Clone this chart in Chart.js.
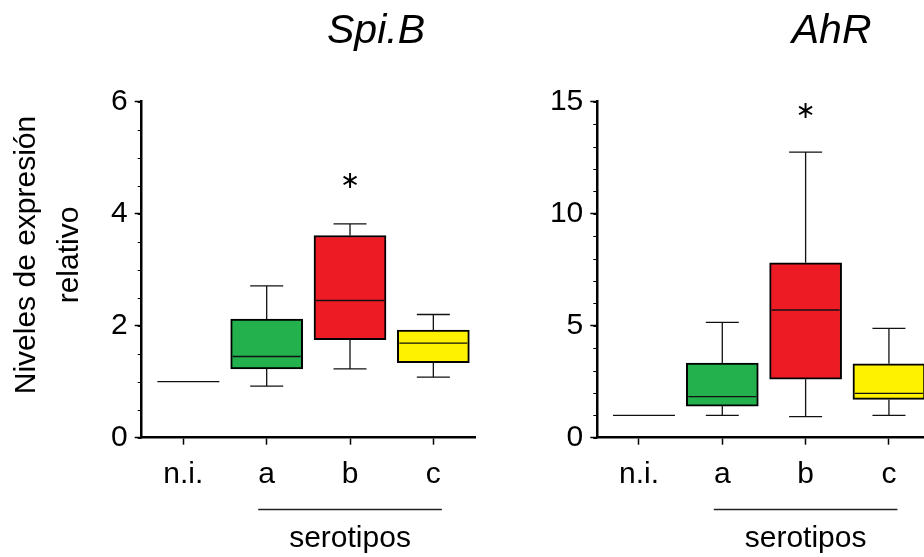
<!DOCTYPE html>
<html><head><meta charset="utf-8">
<script src="https://cdn.jsdelivr.net/npm/chart.js@4.4.1/dist/chart.umd.min.js"></script>
<style>
html,body{margin:0;padding:0;background:#fff;overflow:hidden;}
#wrap{position:relative;width:924px;height:557px;overflow:hidden;background:#fff;}
.box{position:absolute;top:0;}
</style></head><body>
<div id="wrap">
  <div class="box" style="left:0;width:480px;height:557px"><canvas id="c1" width="480" height="557"></canvas></div>
  <div class="box" style="left:480px;width:460px;height:557px"><canvas id="c2" width="460" height="557"></canvas></div>
</div>
<script>
// ---- data ----
const categories = ['n.i.', 'a', 'b', 'c'];
const groupLabel = 'serotipos';
const yAxisTitle = ['Niveles de expresión', 'relativo'];

const spiTitle = 'Spi.B';
const spiMin    = [1, 0.92, 1.23, 1.08];
const spiQ1     = [1, 1.23, 1.75, 1.34];
const spiMedian = [1, 1.45, 2.45, 1.69];
const spiQ3     = [1, 2.12, 3.61, 1.92];
const spiMax    = [1, 2.71, 3.82, 2.20];
const spiStar   = [null, null, 4.57, null];
const spiTicks  = [0, 2, 4, 6];

const ahrTitle = 'AhR';
const ahrMin    = [1, 1.00, 0.94, 1.00];
const ahrQ1     = [1, 1.41, 2.61, 1.71];
const ahrMedian = [1, 1.83, 5.70, 1.98];
const ahrQ3     = [1, 3.33, 7.81, 3.30];
const ahrMax    = [1, 5.15, 12.75, 4.88];
const ahrStar   = [null, null, 14.55, null];
const ahrTicks  = [0, 5, 10, 15];

const boxColors = ['#ffffff', '#22b14c', '#ed1c24', '#fff200'];

// ---- drawing ----
const FONT = '"Liberation Sans", Arial, Helvetica, sans-serif';

function boxPlugin(st) {
  return {
    id: 'boxExtras',
    afterDatasetsDraw(chart) {
      const ctx = chart.ctx, xs = chart.scales.x, ys = chart.scales.y;
      ctx.save();
      ctx.strokeStyle = '#111';
      ctx.lineWidth = 1.3;
      for (let i = 0; i < categories.length; i++) {
        const x = xs.getPixelForValue(i);
        const yMin = ys.getPixelForValue(st.min[i]);
        const yQ1 = ys.getPixelForValue(st.q1[i]);
        const yMed = ys.getPixelForValue(st.median[i]);
        const yQ3 = ys.getPixelForValue(st.q3[i]);
        const yMax = ys.getPixelForValue(st.max[i]);
        ctx.beginPath();
        if (st.q1[i] === st.q3[i]) {
          ctx.moveTo(x - 26, yMed); ctx.lineTo(x + 36, yMed);
        } else {
          ctx.moveTo(x, yQ3); ctx.lineTo(x, yMax);
          ctx.moveTo(x - 16.5, yMax); ctx.lineTo(x + 16.5, yMax);
          ctx.moveTo(x, yQ1); ctx.lineTo(x, yMin);
          ctx.moveTo(x - 16.5, yMin); ctx.lineTo(x + 16.5, yMin);
          ctx.moveTo(x - 34, yMed); ctx.lineTo(x + 34, yMed);
        }
        ctx.stroke();
        if (st.star[i] !== null) {
          ctx.fillStyle = '#000';
          ctx.font = '24px "DejaVu Sans", sans-serif';
          ctx.textAlign = 'center';
          ctx.textBaseline = 'middle';
          ctx.fillText('\u2217', x, ys.getPixelForValue(st.star[i]));
        }
      }
      // title
      ctx.fillStyle = '#000';
      ctx.font = 'italic 41px ' + FONT;
      ctx.textAlign = 'center';
      ctx.textBaseline = 'alphabetic';
      ctx.fillText(st.title, xs.getPixelForValue(2) + 26, 43);
      // group line and label
      const xa = xs.getPixelForValue(1) - 8.5, xc = xs.getPixelForValue(3) + 8.5;
      ctx.strokeStyle = '#222';
      ctx.lineWidth = 1.3;
      ctx.beginPath(); ctx.moveTo(xa, 509.5); ctx.lineTo(xc, 509.5); ctx.stroke();
      ctx.font = '30px ' + FONT;
      ctx.fillText(groupLabel, xs.getPixelForValue(2), 547);
      // y axis title
      if (st.yTitle) {
        ctx.save();
        ctx.translate(0, 255);
        ctx.rotate(-Math.PI / 2);
        ctx.textAlign = 'center';
        ctx.fillText(yAxisTitle[0], 0, 35);
        ctx.fillText(yAxisTitle[1], 0, 78);
        ctx.restore();
      }
      // minor y ticks
      ctx.strokeStyle = '#000';
      ctx.lineWidth = 1;
      ctx.beginPath();
      for (let v = 0; v <= st.yMax + 1e-9; v += st.minor) {
        const y = Math.round(ys.getPixelForValue(v)) + 0.5;
        ctx.moveTo(xs.left - 4, y); ctx.lineTo(xs.left, y);
      }
      ctx.stroke();
      ctx.restore();
    }
  };
}

function makeChart(id, st) {
  return new Chart(document.getElementById(id), {
    type: 'bar',
    data: {
      labels: categories,
      datasets: [{
        data: categories.map((_, i) => st.q1[i] === st.q3[i] ? null : [st.q1[i], st.q3[i]]),
        backgroundColor: boxColors,
        borderColor: '#000',
        borderWidth: 2,
        borderSkipped: false,
        barThickness: 72
      }]
    },
    options: {
      responsive: false,
      animation: false,
      events: [],
      layout: { padding: { left: 0, right: st.padRight, top: 101.7, bottom: 0 } },
      plugins: { legend: { display: false }, tooltip: { enabled: false }, title: { display: false } },
      scales: {
        x: {
          offset: true,
          grid: { offset: false, drawOnChartArea: false, drawTicks: true, tickLength: 7, tickWidth: 1.5, tickColor: '#000' },
          border: { display: true, color: '#000', width: 2.5 },
          ticks: { color: '#000', font: { family: FONT, size: 30 }, padding: 12, maxRotation: 0 },
          afterFit(scale) { scale.height = 119.3; }
        },
        y: {
          min: 0, max: st.yMax,
          afterBuildTicks(scale) { scale.ticks = st.ticks.map(v => ({ value: v })); },
          grid: { drawOnChartArea: false, drawTicks: true, tickLength: 7, tickWidth: 1.5, tickColor: '#000' },
          border: { display: true, color: '#000', width: 2.5 },
          ticks: { color: '#000', font: { family: FONT, size: 30 }, padding: 7 },
          afterFit(scale) { scale.width = st.axisW; }
        }
      }
    },
    plugins: [boxPlugin(st)]
  });
}

makeChart('c1', { title: spiTitle, min: spiMin, q1: spiQ1, median: spiMedian, q3: spiQ3, max: spiMax,
  star: spiStar, ticks: spiTicks, yMax: 6, minor: 0.5, axisW: 141.7, padRight: 5, yTitle: true });
makeChart('c2', { title: ahrTitle, min: ahrMin, q1: ahrQ1, median: ahrMedian, q3: ahrQ3, max: ahrMax,
  star: ahrStar, ticks: ahrTicks, yMax: 15, minor: 1, axisW: 117.3, padRight: 9.4, yTitle: false });
</script>
</body></html>
